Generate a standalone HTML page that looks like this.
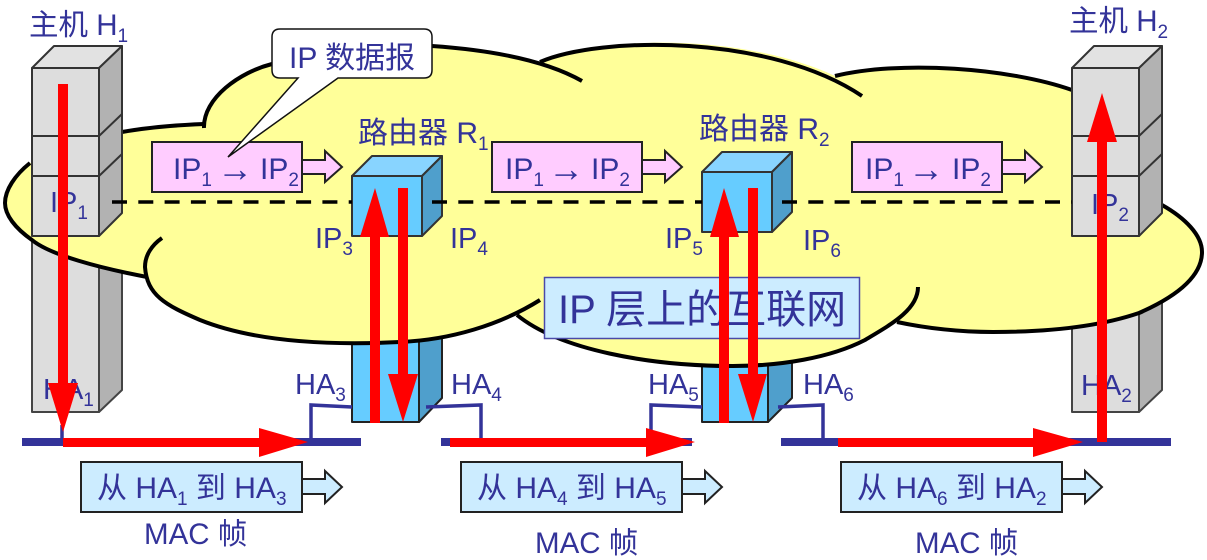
<!DOCTYPE html>
<html><head><meta charset="utf-8">
<style>
html,body{margin:0;padding:0;background:#fff;width:1207px;height:560px;overflow:hidden}
svg{display:block}
text{font-family:"Liberation Sans","Noto Sans CJK SC",sans-serif;font-size:29px;fill:#333399}
.s{font-size:19px}
.b{font-size:30px}
.h{font-size:29.5px}
.a{font-size:36px}
</style></head><body>
<svg width="1207" height="560" viewBox="0 0 1207 560" xmlns="http://www.w3.org/2000/svg">
<rect width="1207" height="560" fill="#fff"/>
<!-- lower hosts -->
<g stroke="#444" stroke-width="2" stroke-linejoin="round">
<path d="M32 200H99V412H32Z" fill="#ddd"/><path d="M99 200L122 180V390L99 412Z" fill="#b2b2b2"/>
<path d="M1072 200H1139V412H1072Z" fill="#ddd"/><path d="M1139 200L1162 180V390L1139 412Z" fill="#b2b2b2"/>
<!-- lower routers -->
<path d="M352 300H419V422H352Z" fill="#66ccff" stroke="#222"/><path d="M419 300H442V398L419 422Z" fill="#4f9fcc" stroke="#222"/>
<path d="M702 300H768V422H702Z" fill="#66ccff" stroke="#222"/><path d="M768 300H792V398L768 422Z" fill="#4f9fcc" stroke="#222"/>
</g>
<!-- bus lines -->
<g fill="#333399">
<rect x="22" y="438" width="339" height="8"/><rect x="441" y="438" width="251" height="8"/><rect x="781" y="438" width="390" height="8"/>
</g>
<g fill="none" stroke="#333399" stroke-width="3.5">
<path d="M311 438V405L352 407"/><path d="M426 407L481 405V438"/><path d="M651 438V405L702 407"/><path d="M778 407L823 405V438"/><path d="M62 425V440"/>
</g>
<!-- cloud fill -->
<path fill="#ffff99" d="M122 132C150 127 178 125 203 124C205 95 240 72 272 64C330 38 450 40 540 62C600 36 740 32 835 76C900 60 1010 68 1072 90L1162 205C1185 218 1202 235 1202 252C1202 275 1180 295 1139 313C1095 328 1040 332 993 332C960 332 925 328 897 322C865 345 800 366 733 366C650 366 560 350 517 315C480 330 440 342 400 342C320 346 250 340 200 320C165 305 147 295 147 277C100 268 50 255 32 240C15 228 5 215 5 203C5 190 15 175 30 163Z"/>
<!-- cloud strokes -->
<g fill="none" stroke="#000" stroke-width="4">
<path d="M122 132C150 127 178 125 204 124"/>
<path d="M204 128C203 98 240 72 272 64"/>
<path d="M432 46C490 50 545 60 582 81"/>
<path d="M540 62C600 36 770 34 862 96"/>
<path d="M835 76C900 60 1010 68 1072 90"/>
<path d="M1162 205C1185 218 1202 235 1202 252C1202 275 1180 295 1139 313C1095 328 1040 332 993 332C960 332 925 328 897 322"/>
<path d="M918 287C918 310 890 325 865 340C830 358 780 366 733 366C650 366 560 350 517 315"/>
<path d="M540 300C500 325 450 340 400 342C320 346 250 340 200 320C165 305 147 295 145 267C145 255 152 245 162 238"/>
<path d="M147 277C100 268 50 255 32 240C15 228 5 215 5 203C5 190 15 175 30 163"/>
</g>
<!-- upper hosts -->
<g stroke="#333" stroke-width="2" stroke-linejoin="round">
<path d="M32 68L54 46H122L99 68Z" fill="#e2e2e2"/><path d="M32 68H99V236H32Z" fill="#ddd"/><path d="M99 68L122 46V213L99 236Z" fill="#b2b2b2"/>
<path d="M32 136H99L122 114M32 176H99L122 154" fill="none"/>
<path d="M1072 68L1094 46H1162L1139 68Z" fill="#e2e2e2"/><path d="M1072 68H1139V236H1072Z" fill="#ddd"/><path d="M1139 68L1162 46V213L1139 236Z" fill="#b2b2b2"/>
<path d="M1072 136H1139L1162 114M1072 176H1139L1162 154" fill="none"/>
<!-- upper routers -->
<path d="M352 176L372 156H442L422 176Z" fill="#88d4ff"/><path d="M352 176H422V236H352Z" fill="#66ccff"/><path d="M422 176L442 156V216L422 236Z" fill="#4f9fcc"/>
<path d="M702 172L722 152H792L772 172Z" fill="#88d4ff"/><path d="M702 172H772V232H702Z" fill="#66ccff"/><path d="M772 172L792 152V212L772 232Z" fill="#4f9fcc"/>
</g>
<!-- dashes -->
<g fill="none" stroke="#000" stroke-width="3.5" stroke-dasharray="15 11.3">
<path d="M112 202H352"/><path d="M432 202H702"/><path d="M782 202H1072"/>
</g>
<!-- pink frames -->
<g fill="#ffccff" stroke="#222" stroke-width="2">
<path d="M302 160H325V151L342 167L325 182V174H302Z"/><rect x="152" y="142" width="150" height="50"/>
<path d="M642 160H665V151L682 167L665 182V174H642Z"/><rect x="492" y="142" width="150" height="50"/>
<path d="M1002 160H1025V151L1042 167L1025 182V174H1002Z"/><rect x="852" y="142" width="150" height="50"/>
</g>
<!-- mac frames -->
<g fill="#ccecff" stroke="#222" stroke-width="2">
<path d="M302 479H325V471L342 487L325 503V494H302Z"/><rect x="81" y="462" width="221" height="50"/>
<path d="M682 479H705V471L722 487L705 503V494H682Z"/><rect x="461" y="462" width="221" height="50"/>
<path d="M1062 479H1085V471L1102 487L1085 503V494H1062Z"/><rect x="841" y="462" width="221" height="50"/>
</g>
<!-- labels under red -->
<g class="b">
<text class="b" x="173" y="179">IP<tspan class="s" dy="7">1</tspan></text><text class="a" x="217" y="181">→</text><text class="b" x="260" y="179">IP<tspan class="s" dy="7">2</tspan></text>
<text class="b" x="505" y="179">IP<tspan class="s" dy="7">1</tspan></text><text class="a" x="548" y="181">→</text><text class="b" x="591" y="179">IP<tspan class="s" dy="7">2</tspan></text>
<text class="b" x="865" y="179">IP<tspan class="s" dy="7">1</tspan></text><text class="a" x="908" y="181">→</text><text class="b" x="952" y="179">IP<tspan class="s" dy="7">2</tspan></text>
</g>
<text x="50" y="212">IP<tspan class="s" dy="7">1</tspan></text>
<text x="1091" y="214">IP<tspan class="s" dy="7">2</tspan></text>
<text x="43" y="399">HA<tspan class="s" dy="7">1</tspan></text>
<text x="1081" y="395">HA<tspan class="s" dy="7">2</tspan></text>
<text class="h" x="29" y="35">主机 H<tspan class="s" dy="7">1</tspan></text>
<text class="h" x="1069" y="31">主机 H<tspan class="s" dy="7">2</tspan></text>
<text class="b" x="358" y="143">路由器 R<tspan class="s" dy="7">1</tspan></text>
<text class="b" x="699" y="139">路由器 R<tspan class="s" dy="7">2</tspan></text>
<text x="315" y="248">IP<tspan class="s" dy="7">3</tspan></text>
<text x="450" y="248">IP<tspan class="s" dy="7">4</tspan></text>
<text x="665" y="248">IP<tspan class="s" dy="7">5</tspan></text>
<text x="803" y="250">IP<tspan class="s" dy="7">6</tspan></text>
<text x="295" y="394">HA<tspan class="s" dy="7">3</tspan></text>
<text x="451" y="394">HA<tspan class="s" dy="7">4</tspan></text>
<text x="648" y="394">HA<tspan class="s" dy="7">5</tspan></text>
<text x="803" y="394">HA<tspan class="s" dy="7">6</tspan></text>
<text class="b" x="97" y="498">从 HA<tspan class="s" dy="7">1</tspan><tspan dy="-7"> 到 HA</tspan><tspan class="s" dy="7">3</tspan></text>
<text class="b" x="477" y="498">从 HA<tspan class="s" dy="7">4</tspan><tspan dy="-7"> 到 HA</tspan><tspan class="s" dy="7">5</tspan></text>
<text class="b" x="857" y="498">从 HA<tspan class="s" dy="7">6</tspan><tspan dy="-7"> 到 HA</tspan><tspan class="s" dy="7">2</tspan></text>
<text class="h" x="144" y="544">MAC 帧</text>
<text class="h" x="535" y="553">MAC 帧</text>
<text class="h" x="915" y="553">MAC 帧</text>
<!-- callout -->
<path d="M280 29H424Q432 29 432 37V70Q432 78 424 78H338L228 157L298 78H280Q272 78 272 70V37Q272 29 280 29Z" fill="#fff" stroke="#111" stroke-width="1.5"/>
<text class="b" x="289" y="68">IP 数据报</text>
<!-- internet label -->
<rect x="544.5" y="277.5" width="315" height="61" fill="#ccecff" stroke="#4a4aa8" stroke-width="1.5"/>
<text x="558" y="323" style="font-size:40px">IP 层上的互联网</text>
<!-- red arrows -->
<g fill="#ff0000">
<path d="M58 84H68V383H78L63 432L48 383H58Z"/>
<path d="M63 438H259V428L308 442L259 457V447H63Z"/>
<path d="M370 423V237H360L375 188L389 237H380V423Z"/>
<path d="M398 188H408V374H418L403 422L388 374H398Z"/>
<path d="M719 423V237H710L724 188L739 237H729V423Z"/>
<path d="M748 188H758V374H767L753 422L738 374H748Z"/>
<path d="M450 438H646V428L695 442L646 457V447H450Z"/>
<path d="M838 438H1033V428L1083 442L1033 457V447H838Z"/>
<path d="M1097 442V142H1087L1102 93L1117 142H1107V442Z"/>
</g>
</svg>
</body></html>
